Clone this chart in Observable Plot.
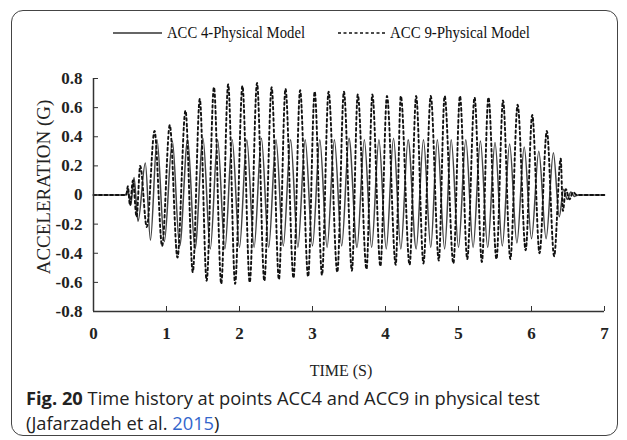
<!DOCTYPE html>
<html>
<head>
<meta charset="utf-8">
<script src="https://cdn.jsdelivr.net/npm/d3@7"></script>
<script src="https://cdn.jsdelivr.net/npm/@observablehq/plot@0.6"></script>
<style>
  html, body { margin: 0; padding: 0; background: #fff; }
  body { width: 627px; height: 440px; position: relative; overflow: hidden; }
  #frame { position: absolute; left: 11px; top: 10px; width: 607px; height: 426px;
           border: 1.5px solid #444; border-radius: 12px; box-sizing: border-box; }
  #legend { position: absolute; left: 0; top: 0; width: 627px; height: 44px;
            font-family: "Liberation Serif", serif; font-size: 17px; color: #111; }
  #legend .txt { position: absolute; top: 23px; white-space: nowrap; transform-origin: left center; line-height: 20px; }
  #legend svg { position: absolute; top: 28px; }
  #chart { position: absolute; left: 0; top: 44px; }
  #caption { position: absolute; left: 26px; top: 385px; width: 590px;
             font-family: "Open Sans", sans-serif; font-size: 18.3px; line-height: 25px; color: #222; }
  #caption b { font-weight: 700; }
  #caption .ref { color: #3366cc; }
</style>
</head>
<body>
<div id="frame"></div>
<div id="legend"></div>
<div id="chart"></div>
<div id="caption"><b>Fig. 20</b> Time history at points ACC4 and ACC9 in physical test<br>(Jafarzadeh et al. <span class="ref">2015</span>)</div>
<script>
// ---------- data ----------
const seriesNames = ["ACC 4-Physical Model", "ACC 9-Physical Model"];
const xTicks = [0, 1, 2, 3, 4, 5, 6, 7];
const yTicks = [-0.8, -0.6, -0.4, -0.2, 0, 0.2, 0.4, 0.6, 0.8];

// ACC 4 (solid): turning points of the record, time (s)
const acc4Time = [0, 0.44, 0.47, 0.51, 0.555, 0.61, 0.71, 0.78, 0.87, 0.97, 1.08, 1.18, 1.29, 1.39,
  1.50, 1.60, 1.70, 1.80, 1.90, 2.00, 2.10, 2.20, 2.30, 2.40, 2.50, 2.60, 2.70, 2.80, 2.90, 3.00,
  3.10, 3.20, 3.30, 3.40, 3.50, 3.61, 3.71, 3.81, 3.91, 4.01, 4.11, 4.21, 4.31, 4.42, 4.52, 4.62,
  4.71, 4.81, 4.90, 5.00, 5.10, 5.20, 5.30, 5.40, 5.50, 5.60, 5.70, 5.80, 5.90, 6.00, 6.10, 6.20,
  6.30, 6.38, 6.44, 6.49, 6.54, 6.59, 6.64, 7.0];
// ACC 4 acceleration (G)
const acc4Value = [0, 0, 0.04, -0.07, 0.12, -0.18, 0.22, -0.31, 0.38, -0.32, 0.37, -0.35, 0.38, -0.37,
  0.39, -0.37, 0.38, -0.37, 0.38, -0.36, 0.38, -0.36, 0.39, -0.36, 0.38, -0.35, 0.38, -0.36, 0.38, -0.35,
  0.38, -0.36, 0.38, -0.35, 0.39, -0.36, 0.38, -0.36, 0.38, -0.37, 0.39, -0.37, 0.38, -0.37, 0.38, -0.36,
  0.38, -0.37, 0.38, -0.36, 0.38, -0.36, 0.37, -0.36, 0.36, -0.35, 0.35, -0.33, 0.33, -0.30, 0.30, -0.30,
  0.29, -0.15, 0.04, -0.03, 0.02, -0.01, 0, 0];

// ACC 9 (dashed): turning points, time (s)
const acc9Time = [0, 0.45, 0.47, 0.50, 0.54, 0.59, 0.64, 0.73, 0.836, 0.94, 1.045, 1.15, 1.26, 1.36,
  1.456, 1.55, 1.65, 1.75, 1.845, 1.94, 2.04, 2.14, 2.24, 2.34, 2.44, 2.54, 2.63, 2.74, 2.83, 2.94,
  3.03, 3.13, 3.22, 3.34, 3.43, 3.54, 3.62, 3.74, 3.82, 3.93, 4.02, 4.14, 4.21, 4.33, 4.42, 4.52,
  4.62, 4.73, 4.81, 4.93, 5.02, 5.12, 5.22, 5.32, 5.41, 5.52, 5.61, 5.71, 5.81, 5.92, 6.01, 6.11,
  6.21, 6.31, 6.40, 6.43, 6.47, 6.52, 6.57, 6.62, 7.0];
// ACC 9 acceleration (G)
const acc9Value = [0, 0, 0.06, -0.07, 0.10, -0.15, 0.20, -0.22, 0.44, -0.35, 0.48, -0.43, 0.58, -0.53,
  0.66, -0.59, 0.74, -0.61, 0.76, -0.61, 0.75, -0.60, 0.77, -0.59, 0.74, -0.58, 0.73, -0.57, 0.72, -0.56,
  0.71, -0.55, 0.71, -0.53, 0.71, -0.52, 0.69, -0.51, 0.69, -0.49, 0.68, -0.48, 0.68, -0.48, 0.68, -0.47,
  0.68, -0.45, 0.68, -0.47, 0.68, -0.44, 0.67, -0.46, 0.67, -0.44, 0.65, -0.44, 0.62, -0.38, 0.55, -0.40,
  0.44, -0.42, 0.25, -0.11, 0.04, -0.03, 0.02, 0, 0];

const acc4 = acc4Time.map((t, i) => ({t, v: acc4Value[i]}));
const acc9 = acc9Time.map((t, i) => ({t, v: acc9Value[i]}));

// ---------- legend ----------
const legend = document.getElementById("legend");
function legendItem(x0, lineW, dash, label, textX, textW) {
  const ns = "http://www.w3.org/2000/svg";
  const s = document.createElementNS(ns, "svg");
  s.setAttribute("width", lineW); s.setAttribute("height", 10);
  s.style.left = x0 + "px";
  const l = document.createElementNS(ns, "line");
  l.setAttribute("x1", 0); l.setAttribute("x2", lineW);
  l.setAttribute("y1", 5); l.setAttribute("y2", 5);
  l.setAttribute("stroke", dash ? "#111" : "#333");
  l.setAttribute("stroke-width", 1.6);
  if (dash) l.setAttribute("stroke-dasharray", "3,2.5");
  s.appendChild(l);
  legend.appendChild(s);
  const t = document.createElement("span");
  t.className = "txt"; t.textContent = label; t.style.left = textX + "px";
  legend.appendChild(t);
  const w = t.getBoundingClientRect().width;
  t.style.transform = `scaleX(${textW / w})`;
}
legendItem(113, 49, false, seriesNames[0], 167, 138);
legendItem(338, 49, true, seriesNames[1], 390, 140);

// ---------- chart ----------
const chart = Plot.plot({
  width: 627,
  height: 340,
  marginLeft: 93,
  marginRight: 23,
  marginTop: 34,
  marginBottom: 73,
  style: {fontFamily: "Liberation Serif, serif", fontSize: "17px", color: "#222", background: "transparent", overflow: "visible"},
  x: {domain: [0, 7], label: null},
  y: {domain: [-0.8, 0.8], label: null},
  marks: [
    Plot.line(acc4, {x: "t", y: "v", curve: "monotone-x", stroke: "#444", strokeWidth: 1.5}),
    Plot.line(acc9, {x: "t", y: "v", curve: "monotone-x", stroke: "#111", strokeWidth: 1.9, strokeDasharray: "2.6,3"}),
    Plot.ruleX([0], {y1: -0.8, y2: 0.8, stroke: "#333", strokeWidth: 1.5}),
    Plot.ruleY([-0.8], {x1: 0, x2: 7, stroke: "#333", strokeWidth: 1.5}),
    Plot.axisY({ticks: yTicks, tickSize: -5, tickPadding: 16, tickFormat: d => d === 0 ? "0" : d.toFixed(1),
      fontWeight: "bold", stroke: "#333", label: null}),
    Plot.axisX({ticks: xTicks, tickSize: -5, tickPadding: 20, tickFormat: d => String(d),
      fontWeight: "bold", stroke: "#333", label: null}),
    Plot.text(["ACCELERATION (G)"], {frameAnchor: "left", textAnchor: "middle", lineAnchor: "middle",
      rotate: -90, dx: -50, dy: -8, fontSize: 19, fill: "#222"}),
    Plot.text(["TIME (S)"], {frameAnchor: "bottom", textAnchor: "middle", lineAnchor: "middle",
      dx: -8, dy: 59, fontSize: 16, fill: "#222"})
  ]
});
document.getElementById("chart").appendChild(chart);
</script>
</body>
</html>
